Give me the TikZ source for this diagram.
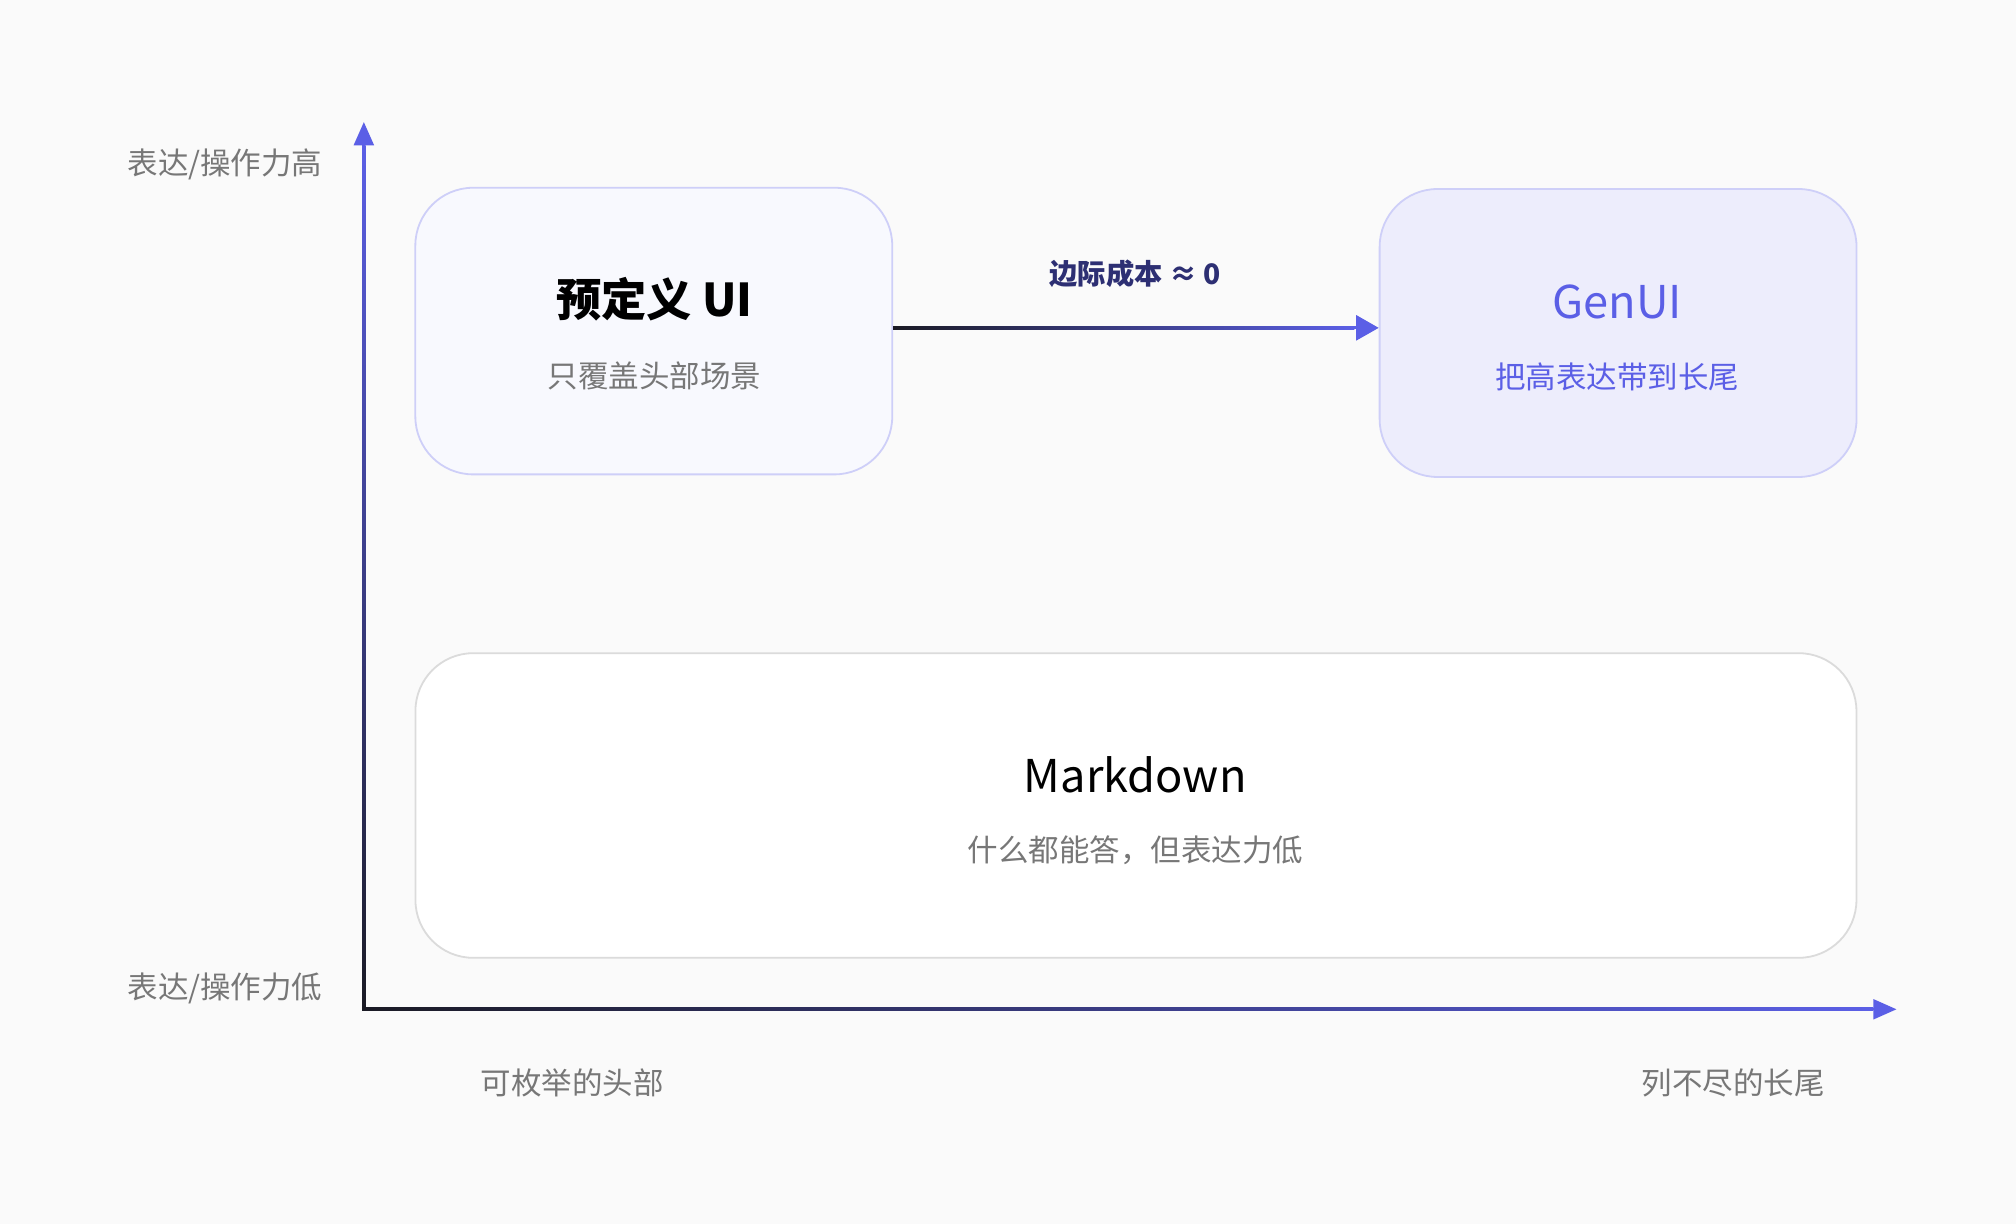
\documentclass[tikz,border=0pt]{standalone}
\usepackage{fontspec}
\setmainfont{Noto Sans CJK SC}
\usetikzlibrary{arrows.meta,positioning,calc}
\definecolor{indig}{HTML}{5B5FE6}
\definecolor{dark}{HTML}{1A1A24}
\definecolor{graytxt}{HTML}{777777}
\tikzset{>=Triangle,
  card/.style={draw, rounded corners=0.9cm, line width=0.8pt, inner sep=0pt},
  ttl/.style={font=\fontsize{20}{24}\selectfont\bfseries},
  sub/.style={font=\fontsize{13.5}{16}\selectfont, text=graytxt},
  axlbl/.style={font=\fontsize{13.5}{16}\selectfont, text=graytxt}}
\begin{document}
\begin{tikzpicture}[x=0.02cm,y=-0.02cm]
    \fill[black!2] (0,0) rectangle (1568,952);
    \useasboundingbox (0,0) rectangle (1568,952);
    % axes
    \coordinate (o) at (283,785);
    \coordinate (ytop) at (283,95);
    \coordinate (xend) at (1475,785);
    \shade[bottom color=dark, top color=indig] ($(o)+(-1.3,1.3)$) rectangle ($(ytop)+(1.3,18)$);
    \shade[left color=dark, right color=indig] ($(o)+(-1.3,-1.3)$) rectangle ($(xend)+(-18,1.3)$);
    \fill[indig] (ytop) -- ++(-8,18) -- ++(16,0) -- cycle;
    \fill[indig] (xend) -- ++(-18,-8) -- ++(0,16) -- cycle;
    \node[axlbl] (yhi) at (175,128) {表达/操作力高};
    \node[axlbl] (ylo) at (175,769) {表达/操作力低};
    \node[axlbl] (xhead) at (445,842) {可枚举的头部};
    \node[axlbl] (xtail) at (1348,842) {列不尽的长尾};
    % cards
    \node[card, draw=indig!30, fill=indig!4, minimum width=7.42cm, minimum height=4.46cm] (pre) at (508.5,257.5) {};
    \node[card, draw=indig!30, fill=indig!11, minimum width=7.42cm, minimum height=4.48cm] (gen) at (1258.5,259) {};
    \node[card, draw=black!14, fill=white, minimum width=22.42cm, minimum height=4.74cm] (md) at (883.5,626.5) {};
    \node[ttl] (pret) at (509,233) {预定义 UI};
    \node[sub] (pres) at (509,292) {只覆盖头部场景};
    \node[ttl, font=\fontsize{20}{24}\selectfont, text=indig] (gent) at (1258,235) {GenUI};
    \node[sub, text=indig] (gens) at (1258,293) {把高表达带到长尾};
    \node[ttl, font=\fontsize{20}{24}\selectfont] (mdt) at (883,603) {Markdown};
    \node[sub] (mds) at (883,661) {什么都能答，但表达力低};
    % connector
    \draw[->, line width=1.4pt, indig, >={Triangle[length=10pt,width=11pt]}] (pre.east |- 0,255) -- (gen.west |- 0,255);
    \shade[left color=dark, right color=indig] ($(pre.east |- 0,255)+(0,-1.2)$) rectangle ($(gen.west |- 0,255)+(-19,1.2)$);
    \node[font=\fontsize{12.5}{15}\selectfont\bfseries, text=indig!50!black] (cost) at (883,213) {边际成本 ≈ 0};
\end{tikzpicture}
\end{document}
